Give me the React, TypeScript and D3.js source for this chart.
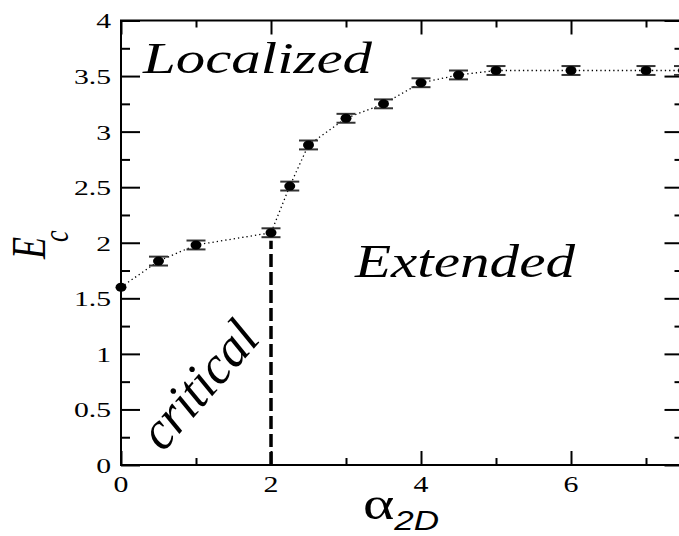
import { useEffect, useRef } from 'react'
import * as d3 from 'd3'

const alphaValues = [0, 0.5, 1, 2, 2.25, 2.5, 3, 3.5, 4, 4.5, 5, 6, 7, 7.5]
const ecValues = [1.6, 1.835, 1.98, 2.09, 2.51, 2.88, 3.12, 3.25, 3.44, 3.51, 3.55, 3.55, 3.55, 3.55]
const ecErrors = [0.02, 0.04, 0.04, 0.04, 0.04, 0.04, 0.04, 0.04, 0.04, 0.04, 0.04, 0.04, 0.04, 0.04]
const xMajorTicks = [0, 2, 4, 6]
const xMinorTicks = [1, 3, 5, 7]
const yMajorTicks = [0, 0.5, 1, 1.5, 2, 2.5, 3, 3.5, 4]
const yMinorTicks = [0.25, 0.75, 1.25, 1.75, 2.25, 2.75, 3.25, 3.75]
const criticalAlpha = 2

const W = 679
const H = 536
const SX = 1.35 // the reference is stretched horizontally

export default function App() {
  const svgRef = useRef<SVGSVGElement>(null)

  useEffect(() => {
    if (!svgRef.current) return
    const svg = d3.select(svgRef.current)
    svg.selectAll('*').remove()

    const x = d3.scaleLinear().domain([0, 7.5]).range([121, 683.5])
    const y = d3.scaleLinear().domain([0, 4]).range([465, 20.5])
    const serif = '"Liberation Serif", "DejaVu Serif", serif'

    const g = svg.append('g')

    // frame
    g.append('rect')
      .attr('x', x(0)).attr('y', y(4))
      .attr('width', x(7.5) - x(0)).attr('height', y(0) - y(4))
      .attr('fill', 'none').attr('stroke', '#000').attr('stroke-width', 2)

    const styleAxis = (sel: d3.Selection<SVGGElement, unknown, null, undefined>) => {
      sel.select('.domain').remove()
      sel.selectAll('line').attr('stroke', '#000').attr('stroke-width', 2)
    }

    // y axes
    const yLeft = g.append('g').attr('transform', `translate(${x(0)},0)`)
      .call(d3.axisLeft(y).tickValues(yMajorTicks).tickSize(-19).tickPadding(10)
        .tickFormat(d => d3.format('')(d as number)))
    styleAxis(yLeft)
    yLeft.selectAll<SVGTextElement, number>('text')
      .attr('font-family', serif).attr('font-size', 22).attr('fill', '#000')
      .attr('x', -10 / SX).attr('dy', '0.34em')
      .attr('transform', `scale(${SX},1)`)
    g.append('g').attr('transform', `translate(${x(0)},0)`)
      .call(d3.axisLeft(y).tickValues(yMinorTicks).tickSize(-9).tickFormat(() => ''))
      .call(styleAxis)
    g.append('g').attr('transform', `translate(${x(7.5)},0)`)
      .call(d3.axisRight(y).tickValues(yMajorTicks).tickSize(-19).tickFormat(() => ''))
      .call(styleAxis)
    g.append('g').attr('transform', `translate(${x(7.5)},0)`)
      .call(d3.axisRight(y).tickValues(yMinorTicks).tickSize(-9).tickFormat(() => ''))
      .call(styleAxis)

    // x axes (ticks pointing inward)
    g.append('g').attr('transform', `translate(0,${y(0)})`)
      .call(d3.axisBottom(x).tickValues(xMajorTicks).tickSize(-14).tickFormat(() => ''))
      .call(styleAxis)
    g.append('g').attr('transform', `translate(0,${y(0)})`)
      .call(d3.axisBottom(x).tickValues(xMinorTicks).tickSize(-7).tickFormat(() => ''))
      .call(styleAxis)
    g.append('g').attr('transform', `translate(0,${y(4)})`)
      .call(d3.axisTop(x).tickValues(xMajorTicks).tickSize(-14).tickFormat(() => ''))
      .call(styleAxis)
    g.append('g').attr('transform', `translate(0,${y(4)})`)
      .call(d3.axisTop(x).tickValues(xMinorTicks).tickSize(-7).tickFormat(() => ''))
      .call(styleAxis)

    // x tick labels
    g.append('g').selectAll('text').data(xMajorTicks).enter().append('text')
      .attr('transform', d => `translate(${x(d)},${y(0) + 27}) scale(1.3,1)`)
      .attr('text-anchor', 'middle')
      .attr('font-family', serif).attr('font-size', '23px').attr('fill', '#000')
      .text(d => String(d))

    const pts = alphaValues.map((a, i) => ({ a, e: ecValues[i], err: ecErrors[i] }))

    // critical dashed line
    g.append('line')
      .attr('x1', x(criticalAlpha)).attr('x2', x(criticalAlpha))
      .attr('y1', y(0)).attr('y2', y(ecValues[alphaValues.indexOf(criticalAlpha)]) + 8)
      .attr('stroke', '#000').attr('stroke-width', 3.5).attr('stroke-dasharray', '13,5')

    // dotted connecting line
    g.append('path')
      .datum(pts)
      .attr('d', d3.line<typeof pts[0]>().x(d => x(d.a)).y(d => y(d.e)))
      .attr('fill', 'none').attr('stroke', '#000').attr('stroke-width', 1.3)
      .attr('stroke-dasharray', '1.3,3')

    // error bars
    const eb = g.append('g').selectAll('g').data(pts).enter().append('g')
    eb.append('line')
      .attr('x1', d => x(d.a)).attr('x2', d => x(d.a))
      .attr('y1', d => y(d.e - d.err)).attr('y2', d => y(d.e + d.err))
      .attr('stroke', '#222').attr('stroke-width', 1.5)
    ;[-1, 1].forEach(s => {
      eb.filter(d => d.a > 0).append('line')
        .attr('x1', d => x(d.a) - 9.5).attr('x2', d => x(d.a) + 9.5)
        .attr('y1', d => y(d.e + s * d.err)).attr('y2', d => y(d.e + s * d.err))
        .attr('stroke', '#333').attr('stroke-width', 2)
    })
    eb.append('ellipse')
      .attr('cx', d => x(d.a)).attr('cy', d => y(d.e))
      .attr('rx', 5.5).attr('ry', 4.5).attr('fill', '#000')

    // labels
    const label = (txt: string, tx: number, ty: number, size: number, len: number, rot = 0) =>
      g.append('text')
        .attr('transform', `translate(${tx},${ty}) rotate(${rot})`)
        .attr('font-family', serif).attr('font-style', 'italic').attr('font-size', size)
        .attr('textLength', len).attr('lengthAdjust', 'spacingAndGlyphs')
        .attr('fill', '#000').text(txt)
    label('Localized', 143, 73, 45, 229)
    label('Extended', 355, 277, 47, 220)
    label('critical', 163, 453, 54, 150, -49)

    // x axis title
    const xt = g.append('text')
      .attr('transform', `translate(363,519) scale(1.3,1)`)
      .attr('fill', '#000')
    xt.append('tspan').attr('font-family', serif).attr('font-size', 46).text('α')
    xt.append('tspan').attr('font-family', '"Liberation Sans", Arial, sans-serif')
      .attr('font-style', 'italic').attr('font-size', 27).attr('dy', 11).text('2D')

    // y axis title
    const yt = g.append('text')
      .attr('transform', `translate(45,259) scale(${SX},1) rotate(-90)`)
      .attr('font-family', serif).attr('font-style', 'italic').attr('fill', '#000')
    yt.append('tspan').attr('font-size', 36).text('E')
    yt.append('tspan').attr('font-size', 26).attr('dy', 17).attr('dx', -5).text('c')
  }, [])

  return (
    <svg
      ref={svgRef}
      width={W}
      height={H}
      style={{ position: 'absolute', left: 0, top: 0, background: '#fff' }}
    />
  )
}
